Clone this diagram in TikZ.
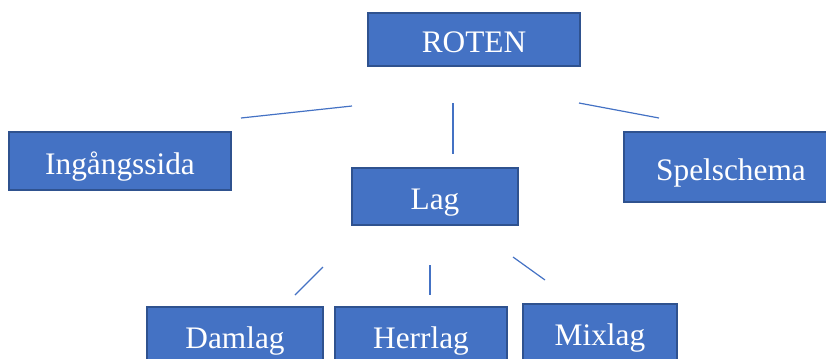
\documentclass[tikz,border=0pt]{standalone}
\usepackage{fontspec}
\setmainfont{Liberation Serif}
\definecolor{boxfill}{HTML}{4472C4}
\definecolor{boxedge}{HTML}{2F528F}
\begin{document}
\begin{tikzpicture}[x=0.75pt,y=-0.75pt,
  box/.style={draw=boxedge, fill=boxfill, line width=1.1pt, inner sep=0pt,
    text=white, font=\fontsize{23.5pt}{28pt}\selectfont,
    text height=19.5pt, text depth=0pt},
  link/.style={draw=boxfill, line width=0.9pt}]
\useasboundingbox (0,0) rectangle (826,358);
\node[box, minimum width=159pt, minimum height=39.75pt] (roten) at (474,39.5) {ROTEN};
\node[box, minimum width=166.5pt, minimum height=43.5pt] (ing) at (120,161) {Ingångssida};
\node[box, minimum width=124.5pt, minimum height=42.75pt] (lag) at (435,196.5) {Lag};
\node[box, minimum width=180pt, minimum height=52.5pt] (spel) at (744,167) {\hspace*{-19.5pt}Spelschema};
\node[box, minimum width=132pt, minimum height=42pt] (dam) at (235,335) {Damlag};
\node[box, minimum width=129pt, minimum height=42pt] (herr) at (421,335) {Herrlag};
\node[box, minimum width=115.5pt, minimum height=42pt] (mix) at (600,332) {Mixlag};
\coordinate (a1) at (241,118); \coordinate (a2) at (352,106);
\coordinate (b1) at (453,103); \coordinate (b2) at (453,154);
\coordinate (c1) at (579,103); \coordinate (c2) at (659,118);
\coordinate (d1) at (323,267); \coordinate (d2) at (295,295);
\coordinate (e1) at (430,265); \coordinate (e2) at (430,295);
\coordinate (f1) at (513,257); \coordinate (f2) at (545,280);
\draw[link] (a1) -- (a2);
\draw[link] (b1) -- (b2);
\draw[link] (c1) -- (c2);
\draw[link] (d1) -- (d2);
\draw[link] (e1) -- (e2);
\draw[link] (f1) -- (f2);
\end{tikzpicture}
\end{document}
